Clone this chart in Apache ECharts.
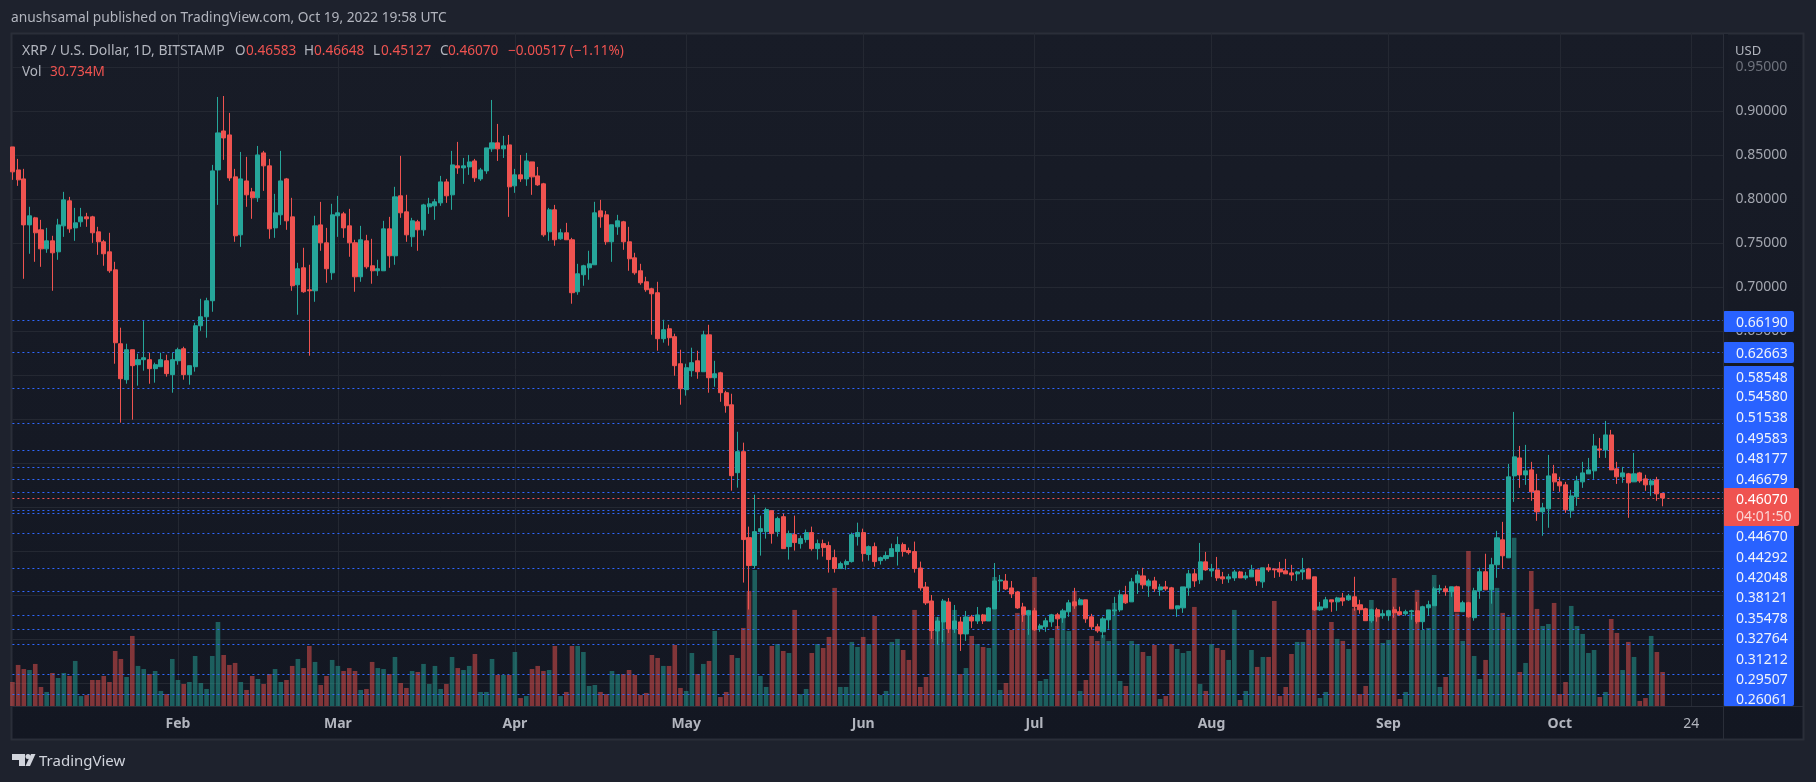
<!DOCTYPE html>
<html>
<head>
<meta charset="utf-8">
<title>XRP / U.S. Dollar</title>
<script src="https://cdn.jsdelivr.net/npm/echarts@6/dist/echarts.min.js"></script>
<style>
html,body{margin:0;padding:0;background:#1e222d;}
#main{width:1816px;height:782px;}
</style>
</head>
<body>
<div id="main"></div>
<script>
// daily candles from 2022-01-03: open, close, low, high
var candles = [
[.8592,.8309,.8218,.8592],[.8331,.8218,.8150,.8456],[.8229,.7707,.7095,.8343],[.7707,.7810,.7379,.7912],[.7787,.7617,.7288,.7798],
[.7651,.7435,.7231,.7764],[.7435,.7526,.7390,.7673],[.7526,.7390,.6959,.7583],[.7401,.7707,.7311,.7776],[.7696,.7991,.7571,.8082],
[.7980,.7662,.7617,.8025],[.7673,.7730,.7526,.7900],[.7742,.7798,.7685,.7900],[.7798,.7776,.7685,.7844],[.7798,.7617,.7503,.7810],
[.7628,.7515,.7367,.7685],[.7515,.7379,.7243,.7537],[.7401,.7186,.7163,.7617],[.7197,.6369,.6131,.7288],[.6358,.5961,.5462,.6540],
[.5950,.6290,.5904,.6358],[.6290,.6109,.5496,.6290],[.6120,.6177,.5882,.6245],[.6177,.6199,.6052,.6615],[.6177,.6075,.5904,.6256],
[.6075,.6120,.5916,.6143],[.6097,.6177,.6097,.6256],[.6165,.6018,.5984,.6233],[.6007,.6177,.5802,.6256],[.6165,.6290,.6120,.6313],
[.6301,.6007,.5950,.6324],[.6007,.6109,.5893,.6109],[.6097,.6562,.6041,.6596],[.6562,.6664,.6505,.6868],[.6664,.6846,.6426,.6880],
[.6846,.8320,.6721,.8388],[.8331,.8751,.7934,.9159],[.8773,.8694,.8445,.9170],[.8728,.8240,.8206,.8978],[.8252,.7583,.7515,.8343],
[.7594,.8229,.7458,.8535],[.8206,.8048,.7912,.8479],[.8082,.8014,.7776,.8127],[.8014,.8501,.7968,.8603],[.8524,.8377,.8093,.8547],
[.8377,.7662,.7549,.8456],[.7673,.7844,.7560,.8059],[.7821,.8206,.7707,.8547],[.8229,.7753,.7651,.8240],[.7798,.7016,.6959,.8014],
[.7027,.7209,.6687,.7277],[.7220,.6948,.6936,.7447],[.6970,.6959,.6222,.7254],[.6959,.7696,.6834,.7810],[.7707,.7503,.7413,.7968],
[.7503,.7209,.7050,.7673],[.7163,.7821,.7084,.7946],[.7810,.7844,.7571,.8036],[.7832,.7673,.7560,.7855],[.7696,.7503,.7345,.7889],
[.7504,.7118,.6948,.7538],[.7118,.7538,.7061,.7696],[.7526,.7231,.7209,.7594],[.7243,.7186,.7039,.7549],[.7186,.7209,.7129,.7311],
[.7186,.7662,.7186,.7753],[.7662,.7356,.7220,.7798],[.7356,.8025,.7254,.8139],[.8037,.7844,.7787,.8490],[.7855,.7594,.7515,.8048],
[.7572,.7753,.7458,.7787],[.7742,.7651,.7413,.7764],[.7651,.7934,.7583,.7946],[.7912,.7946,.7832,.8014],[.7923,.7969,.7764,.8003],
[.7957,.8195,.7923,.8263],[.8195,.8037,.7957,.8229],[.8048,.8388,.7878,.8547],[.8377,.8354,.8286,.8649],[.8354,.8377,.8173,.8467],
[.8365,.8422,.8275,.8501],[.8433,.8241,.8195,.8456],[.8229,.8331,.8207,.8354],[.8320,.8581,.8286,.8581],[.8570,.8638,.8536,.9125],
[.8638,.8570,.8433,.8853],[.8570,.8604,.8467,.8717],[.8615,.8139,.7798,.8728],[.8150,.8275,.8071,.8343],[.8275,.8229,.8195,.8501],
[.8229,.8433,.8150,.8524],[.8422,.8252,.8048,.8422],[.8263,.8161,.8150,.8365],[.8173,.7594,.7572,.8184],[.7628,.7878,.7526,.7900],
[.7878,.7538,.7470,.7934],[.7549,.7617,.7538,.7662],[.7617,.7538,.7538,.7730],[.7538,.6937,.6812,.7560],[.6948,.7152,.6914,.7265],
[.7141,.7243,.7016,.7254],[.7220,.7265,.7084,.7413],[.7254,.7844,.7254,.7969],[.7866,.7798,.7674,.7991],[.7821,.7515,.7481,.7866],
[.7515,.7708,.7288,.7708],[.7685,.7753,.7594,.7821],[.7742,.7515,.7424,.7753],[.7515,.7322,.7186,.7685],[.7333,.7163,.7141,.7390],
[.7186,.7050,.7027,.7265],[.7061,.6971,.6948,.7118],[.6982,.6925,.6460,.6993],[.6937,.6415,.6279,.7061],[.6415,.6517,.6370,.6630],
[.6528,.6426,.6336,.6574],[.6438,.6109,.5995,.6472],[.6131,.5848,.5666,.6290],[.5837,.6086,.5769,.6131],[.6052,.6143,.5984,.6313],
[.6164,.6040,.5960,.6278],[.6040,.6459,.6040,.6505],[.6459,.5972,.5802,.6573],[.5972,.6017,.5870,.6164],[.6028,.5802,.5699,.6040],
[.5802,.5654,.5575,.5824],[.5665,.4860,.4690,.5790],[.4894,.5133,.4724,.5359],[.5133,.4135,.3647,.5235],[.4157,.3840,.3341,.4282],
[.3840,.4225,.3806,.4645],[.4225,.4259,.3953,.4407],[.4225,.4475,.4146,.4497],[.4463,.4203,.4089,.4463],[.4225,.4373,.4169,.4395],
[.4395,.4032,.4032,.4429],[.4055,.4203,.3908,.4237],[.4191,.4101,.4010,.4407],[.4089,.4146,.4032,.4180],[.4135,.4214,.4101,.4248],
[.4214,.4032,.4010,.4282],[.4032,.4089,.3908,.4135],[.4089,.4044,.3942,.4135],[.4067,.3908,.3760,.4112],[.3930,.3806,.3760,.4021],
[.3806,.3862,.3806,.3885],[.3851,.3885,.3794,.3908],[.3885,.4191,.3874,.4214],[.4169,.4214,.4067,.4327],[.4214,.3976,.3885,.4259],
[.3965,.4055,.3896,.4067],[.4055,.3885,.3828,.4101],[.3896,.3930,.3851,.3942],[.3919,.3953,.3896,.3999],[.3942,.4032,.3942,.4089],
[.3999,.4078,.3840,.4169],[.4078,.3999,.3942,.4101],[.4010,.3987,.3965,.4044],[.3999,.3806,.3760,.4112],[.3812,.3586,.3556,.3885],
[.3597,.3416,.3393,.3654],[.3438,.3098,.3007,.3506],[.3098,.3211,.2939,.3257],[.3200,.3438,.2973,.3461],[.3427,.3121,.3075,.3472],
[.3121,.3211,.3075,.3393],[.3200,.3064,.2871,.3257],[.3064,.3257,.2985,.3325],[.3257,.3211,.3132,.3280],[.3211,.3280,.3177,.3370],
[.3280,.3211,.3177,.3291],[.3211,.3359,.3211,.3370],[.3348,.3665,.3348,.3869],[.3665,.3676,.3540,.3733],[.3665,.3574,.3563,.3744],
[.3586,.3518,.3472,.3665],[.3540,.3359,.3348,.3552],[.3371,.3281,.3201,.3417],[.3281,.3326,.3054,.3337],[.3326,.3111,.3099,.3360],
[.3122,.3156,.3088,.3179],[.3145,.3213,.3088,.3247],[.3201,.3281,.3145,.3292],[.3281,.3235,.3122,.3303],[.3247,.3326,.3190,.3349],
[.3315,.3417,.3258,.3451],[.3428,.3383,.3349,.3587],[.3394,.3451,.3394,.3473],[.3451,.3235,.3190,.3451],[.3258,.3145,.3111,.3292],
[.3145,.3099,.3077,.3179],[.3088,.3235,.3020,.3258],[.3224,.3337,.3122,.3337],[.3326,.3337,.3269,.3485],[.3337,.3508,.3315,.3564],
[.3508,.3417,.3405,.3610],[.3428,.3655,.3428,.3700],[.3644,.3734,.3519,.3780],[.3723,.3621,.3576,.3814],[.3610,.3666,.3485,.3689],
[.3666,.3576,.3542,.3712],[.3564,.3598,.3496,.3632],[.3598,.3576,.3553,.3666],[.3587,.3349,.3349,.3598],[.3349,.3383,.3258,.3383],
[.3360,.3598,.3303,.3598],[.3587,.3746,.3496,.3791],[.3746,.3666,.3598,.3802],[.3678,.3882,.3632,.4097],[.3882,.3791,.3780,.3995],
[.3780,.3802,.3712,.3859],[.3791,.3700,.3666,.3938],[.3712,.3689,.3632,.3768],[.3689,.3712,.3644,.3746],[.3700,.3768,.3666,.3791],
[.3768,.3700,.3700,.3780],[.3700,.3723,.3678,.3768],[.3712,.3791,.3712,.3848],[.3791,.3666,.3610,.3791],[.3655,.3814,.3587,.3814],
[.3814,.3791,.3768,.3859],[.3802,.3791,.3700,.3802],[.3802,.3768,.3712,.3882],[.3780,.3746,.3746,.3916],[.3757,.3734,.3666,.3848],
[.3746,.3768,.3666,.3780],[.3768,.3791,.3678,.3927],[.3802,.3689,.3689,.3814],[.3712,.3337,.3326,.3712],[.3337,.3371,.3326,.3428],
[.3360,.3451,.3360,.3485],[.3451,.3428,.3315,.3451],[.3428,.3473,.3326,.3485],[.3473,.3439,.3383,.3530],[.3451,.3496,.3439,.3519],
[.3486,.3373,.3327,.3713],[.3395,.3339,.3293,.3452],[.3350,.3214,.3214,.3361],[.3214,.3339,.3191,.3350],[.3339,.3259,.3203,.3361],
[.3271,.3293,.3237,.3339],[.3271,.3327,.3214,.3339],[.3339,.3305,.3248,.3373],[.3316,.3282,.3271,.3373],[.3293,.3316,.3271,.3339],
[.3316,.3327,.3225,.3339],[.3327,.3203,.3180,.3429],[.3203,.3373,.3112,.3384],[.3361,.3395,.3271,.3441],[.3384,.3577,.3384,.3599],
[.3565,.3577,.3520,.3622],[.3577,.3543,.3497,.3611],[.3543,.3599,.3486,.3599],[.3599,.3316,.3316,.3611],[.3316,.3418,.3316,.3441],
[.3418,.3259,.3248,.3429],[.3248,.3554,.3214,.3588],[.3554,.3770,.3463,.3815],[.3770,.3565,.3565,.3974],[.3565,.3849,.3407,.3928],
[.3849,.4155,.3701,.4234],[.4132,.3951,.3804,.4336],[.3928,.4847,.3928,.4994],[.4858,.5074,.4563,.5584],[.5062,.4869,.4722,.5198],
[.4869,.4915,.4756,.5210],[.4926,.4677,.4575,.5017],[.4688,.4450,.4348,.4881],[.4450,.4495,.4178,.4552],[.4484,.4858,.4269,.5096],
[.4881,.4790,.4688,.4983],[.4790,.4745,.4677,.4847],[.4756,.4473,.4439,.4790],[.4461,.4631,.4382,.4699],[.4620,.4801,.4518,.4858],
[.4790,.4892,.4722,.5017],[.4881,.4926,.4881,.5062],[.4915,.5198,.4824,.5334],[.5164,.5153,.5062,.5289],[.5153,.5323,.5062,.5482],
[.5323,.4926,.4926,.5380],[.4938,.4847,.4767,.5017],[.4847,.4892,.4779,.4960],[.4881,.4779,.4382,.4892],[.4790,.4881,.4790,.5119],
[.4892,.4801,.4779,.4904],[.4824,.4756,.4688,.4870],[.4756,.4801,.4631,.4824],[.4813,.4654,.4575,.4847],[.46583,.46070,.45127,.46648]
];
// volume in millions, same days
var volume = [
21.7,37.1,33.4,32.5,38.0,17.2,12.7,29.8,25.3,29.8,27.1,40.7,9.0,9.9,23.5,23.5,27.1,21.7,49.7,42.5,
26.2,63.3,36.2,33.4,28.9,31.6,13.6,10.8,42.5,23.5,19.9,21.7,45.2,20.8,15.4,45.2,75.9,46.1,37.1,38.9,
21.7,14.5,27.1,24.4,19.9,28.9,33.4,21.7,23.5,36.2,42.5,34.3,54.2,39.8,19.0,27.1,41.6,36.2,31.6,34.3,
31.6,14.5,15.4,39.8,34.3,33.4,28.9,44.3,20.8,16.3,31.6,30.7,38.0,19.9,36.2,15.4,19.9,44.3,34.3,32.5,
36.2,47.0,12.7,12.7,42.5,28.0,28.0,28.0,48.8,7.2,9.0,33.4,36.2,31.6,32.5,54.2,9.0,12.7,54.2,54.2,
48.8,18.1,19.0,12.7,10.8,31.6,28.9,28.9,32.5,28.0,9.9,11.8,46.1,43.4,36.2,36.2,55.1,16.3,13.6,47.9,
28.9,38.0,40.7,67.8,8.1,12.7,46.1,43.4,70.5,104.0,122.9,27.1,17.2,54.2,56.0,49.7,47.9,86.8,10.8,15.4,
47.9,56.0,52.4,62.4,106.7,17.2,17.2,57.9,53.3,62.4,56.0,81.4,9.9,13.6,57.9,60.6,50.6,41.6,86.8,17.2,
26.2,67.2,80.4,76.2,69.6,86.8,28.9,34.3,63.3,56.0,53.3,52.4,116.6,14.5,20.8,68.7,84.1,82.3,86.8,116.6,
22.6,24.4,61.5,72.3,80.7,67.8,104.0,13.6,23.5,63.3,58.8,64.2,58.8,93.1,22.6,18.1,58.8,56.0,48.8,45.2,
55.1,6.3,9.0,56.0,51.5,47.9,49.7,89.5,19.9,13.6,56.0,52.4,50.6,41.6,86.8,5.4,13.6,50.6,35.3,44.3,
44.3,94.9,9.0,17.2,47.0,57.9,57.9,68.7,86.8,7.2,12.7,75.9,60.6,58.8,51.5,88.3,10.8,18.1,95.8,80.7,
56.9,59.7,115.7,6.3,12.7,83.8,104.9,68.7,70.5,118.4,17.2,26.2,104.9,83.8,58.8,140.1,45.2,24.4,41.6,104.9,
106.7,84.1,80.4,151.9,30.7,38.9,122.0,87.7,72.3,74.1,93.1,10.8,21.7,90.4,72.3,65.1,47.9,50.6,8.1,12.7,
78.6,66.0,32.5,57.9,44.3,4.5,7.2,63.3,48.8,30.734
];
// support and resistance levels
var levels = [0.66190,0.62663,0.58548,0.54580,0.51538,0.49583,0.48177,0.46679,0.44670,0.44292,0.42048,0.38121,0.35478,0.32764,0.31212,0.29507,0.26061,0.2384];
var lastPrice = 0.46070;
// price tags on the scale, stacked so they do not overlap
var tags = [
['0.66190',322],['0.62663',353],['0.58548',377],['0.54580',396],['0.51538',417],['0.49583',438],['0.48177',458],['0.46679',479],
['0.44670',536],['0.44292',557],['0.42048',577],['0.38121',597],['0.35478',618],['0.32764',638],['0.31212',659],['0.29507',679],['0.26061',699]
];
var monthNames = ['Jan','Feb','Mar','Apr','May','Jun','Jul','Aug','Sep','Oct','Nov','Dec'];

var UP = '#26a69a', DOWN = '#ef5350';
var FONT = '"Noto Sans", sans-serif';
var days = [];
for (var i = 0; i < 301; i++) {
  days.push(new Date(Date.UTC(2022, 0, 3 + i)));
}
var showTick = function (index) {
  var d = days[index];
  if (!d) return false;
  return d.getUTCDate() === 1 || (d.getUTCMonth() === 9 && d.getUTCDate() === 24);
};

var volData = [];
for (i = 0; i < volume.length; i++) {
  volData.push({
    value: volume[i],
    itemStyle: {color: candles[i][1] >= candles[i][0] ? 'rgba(38,166,154,0.5)' : 'rgba(239,83,80,0.5)'}
  });
}

var lineData = [];
for (i = 0; i < levels.length; i++) {
  lineData.push({yAxis: levels[i], lineStyle: {color: '#2f68ff'}});
}
lineData.push({yAxis: lastPrice, lineStyle: {color: DOWN}});

function txt(x, y, s, color, size, extra) {
  var style = {x: x, y: y + 1, text: s, fill: color, font: (extra || '') + ' ' + (size || 14) + 'px ' + FONT, textVerticalAlign: 'middle'};
  return {type: 'text', z: 100, silent: true, style: style};
}
function box(x, y, w, h, color, z, r) {
  return {type: 'rect', z: z, silent: true, shape: {x: x, y: y, width: w, height: h, r: r || 0}, style: {fill: color}};
}

var TXT = '#b2b5be';
var g = [];
// pane with the vertical gradient of the chart
g.push({type: 'rect', z: -1, silent: true, shape: {x: 11.5, y: 33.5, width: 1792, height: 706},
  style: {stroke: '#2a2e39', lineWidth: 2, fill: new echarts.graphic.LinearGradient(0, 0, 0, 1, [{offset: 0, color: '#181c27'}, {offset: 1, color: '#131722'}])}});
g.push(box(1723, 33, 1, 707, '#2a2e39', 99));
g.push(box(12, 706, 1791, 1, '#2a2e39', 99));
// scale column
g.push(box(1724, 34, 4, 672, '#171b26', 90));
g.push(box(1723, 311, 71, 21, '#2962ff', 95, 2));
g.push(box(1723, 342, 71, 21, '#2962ff', 95, 2));
g.push(box(1723, 366, 71, 340, '#2962ff', 95, 2));
g.push(box(1723, 488, 76, 38, DOWN, 96, 2));
for (i = 0; i < tags.length; i++) {
  g.push(txt(1736, tags[i][1], tags[i][0], '#f0f3fa', 14));
}
g.push(txt(1736, 499, '0.46070', '#ffffff', 14));
g.push(txt(1736, 516, '04:01:50', '#fbd5d4', 14));
g.push(txt(1735, 50, 'USD', TXT, 13));
// header
g.push(txt(11, 17, 'anushsamal published on TradingView.com, Oct 19, 2022 19:58 UTC', TXT, 13.75));
g.push(txt(22, 50, 'XRP / U.S. Dollar, 1D, BITSTAMP', TXT, 14));
g.push(txt(235, 50, 'O', TXT, 13.5));
g.push(txt(246, 50, '0.46583', DOWN, 13.6));
g.push(txt(304, 50, 'H', TXT, 13.5));
g.push(txt(314, 50, '0.46648', DOWN, 13.6));
g.push(txt(373, 50, 'L', TXT, 13.5));
g.push(txt(381, 50, '0.45127', DOWN, 13.6));
g.push(txt(440, 50, 'C', TXT, 13.5));
g.push(txt(448, 50, '0.46070', DOWN, 13.6));
g.push(txt(508, 50, '\u22120.00517 (\u22121.11%)', DOWN, 13.6));
g.push(txt(22, 71, 'Vol', TXT, 13.5));
g.push(txt(50, 71, '30.734M', DOWN, 13.6));
// logo
g.push({type: 'polygon', z: 100, silent: true, shape: {points: [[12,754],[25,754],[25,766],[19,766],[19,760],[12,760]]}, style: {fill: '#d1d4dc'}});
g.push({type: 'circle', z: 100, silent: true, shape: {cx: 28, cy: 756.5, r: 2.5}, style: {fill: '#d1d4dc'}});
g.push({type: 'polygon', z: 100, silent: true, shape: {points: [[31,754],[35.5,754],[30,766],[25.5,766]]}, style: {fill: '#d1d4dc'}});
g.push(txt(39, 761, 'TradingView', '#d1d4dc', 15));

var myChart = echarts.init(document.getElementById('main'));
var option = {
  animation: false,
  backgroundColor: '#1e222d',
  textStyle: {fontFamily: FONT},
  grid: {left: 12.4, top: 33, width: 1713, height: 673},
  graphic: g,
  xAxis: {
    type: 'category',
    boundaryGap: false,
    data: days.map(function (d) { return d.toISOString().slice(0, 10); }),
    axisLine: {show: false},
    axisTick: {show: false},
    axisLabel: {
      interval: function (index) { return showTick(index); },
      color: TXT,
      fontFamily: FONT,
      fontSize: 14,
      margin: 11,
      formatter: function (value) {
        var d = new Date(value + 'T00:00:00Z');
        if (d.getUTCDate() === 1) return '{m|' + monthNames[d.getUTCMonth()] + '}';
        return String(d.getUTCDate());
      },
      rich: {m: {color: TXT, fontFamily: FONT, fontSize: 14, fontWeight: 'bold'}}
    },
    splitLine: {show: true, interval: function (index) { return showTick(index); }, lineStyle: {color: '#242832', width: 1}}
  },
  yAxis: [
    {
      type: 'value',
      position: 'right',
      min: 0.2246,
      max: 0.9885,
      axisLine: {show: false},
      axisTick: {show: false, customValues: [0.25,0.3,0.35,0.4,0.45,0.5,0.55,0.6,0.65,0.7,0.75,0.8,0.85,0.9,0.95]},
      axisLabel: {
        customValues: [0.25,0.3,0.35,0.4,0.45,0.5,0.55,0.6,0.65,0.7,0.75,0.8,0.85,0.9,0.95],
        margin: 10,
        padding: [3, 0, 0, 0],
        fontFamily: FONT,
        fontSize: 14,
        color: function (v) { return v > 0.94 ? '#6f737d' : '#a3a6af'; },
        formatter: function (v) { return v.toFixed(5); }
      },
      splitLine: {show: true, lineStyle: {color: '#242832', width: 1}}
    },
    {type: 'value', show: false, min: 0, max: 608, splitLine: {show: false}}
  ],
  series: [
    {
      name: 'Vol',
      type: 'bar',
      yAxisIndex: 1,
      z: 1,
      barWidth: 4.6,
      data: volData
    },
    {
      name: 'XRP',
      type: 'candlestick',
      z: 3,
      barWidth: 4.6,
      data: candles,
      itemStyle: {color: UP, color0: DOWN, borderColor: UP, borderColor0: DOWN, borderWidth: 1},
      markLine: {
        silent: true,
        z: 2,
        precision: 5,
        symbol: 'none',
        label: {show: false},
        lineStyle: {type: [2, 3], width: 1.2},
        data: lineData
      }
    }
  ]
};
myChart.setOption(option);
</script>
</body>
</html>
